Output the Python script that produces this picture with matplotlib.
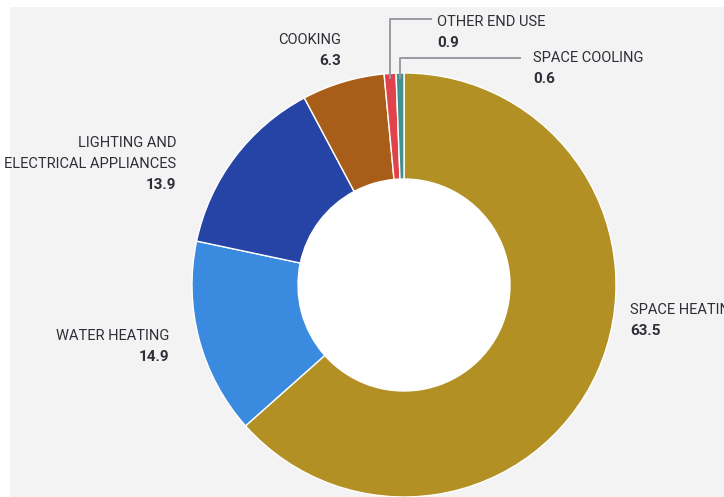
import matplotlib.pyplot as plt
import matplotlib.patches as patches

plt.rcParams['font.family'] = ['Liberation Sans Narrow', 'DejaVu Sans Condensed', 'Roboto']

# residential energy use by end use (%)
end_uses = ['SPACE HEATING', 'WATER HEATING', 'LIGHTING AND\nELECTRICAL APPLIANCES',
            'COOKING', 'OTHER END USE', 'SPACE COOLING']
shares = [63.5, 14.9, 13.9, 6.3, 0.9, 0.6]
colors = ['#B29023', '#3A8AE0', '#2643A6', '#A85E18', '#E0434A', '#45908E']

W, H = 724, 497
fig = plt.figure(figsize=(W / 100, H / 100), dpi=100)
fig.patch.set_facecolor('white')
ax = fig.add_axes([0, 0, 1, 1])

# light grey panel behind the chart
ax.add_patch(patches.Rectangle((10, 0), W - 10, H - 7, facecolor='#F3F3F3',
                               edgecolor='none', zorder=0))

cx, cy, r = 404, H - 285, 212
wedges, _ = ax.pie(shares, colors=colors, startangle=90, counterclock=False,
                   center=(cx, cy), radius=r, frame=True,
                   wedgeprops=dict(width=r * 0.5, edgecolor='white', linewidth=1))
ax.add_patch(patches.Circle((cx, cy), r * 0.5 - 0.5, facecolor='white',
                            edgecolor='none', zorder=3))
ax.set_xlim(0, W)
ax.set_ylim(0, H)
ax.set_aspect('auto')
ax.axis('off')

txt = '#2E2E38'
fs = 10.5
step = 21


def label(x, ytop, name, value, ha):
    y = H - ytop
    for ln in name.split('\n'):
        ax.text(x, y, ln, ha=ha, va='center', fontsize=fs, color=txt)
        y -= step
    ax.text(x, y, f'{value}', ha=ha, va='center', fontsize=fs + 0.5, color=txt,
            fontweight='bold')


label(630, 310, end_uses[0], shares[0], 'left')
label(169, 336, end_uses[1], shares[1], 'right')
label(176, 143, end_uses[2], shares[2], 'right')
label(341, 40, end_uses[3], shares[3], 'right')
label(437, 22, end_uses[4], shares[4], 'left')
label(533, 58, end_uses[5], shares[5], 'left')

# leader lines for the two thin slices
lc = '#9A9AA2'
ax.plot([390, 390, 431], [H - 78, H - 19, H - 19], color=lc, lw=1.4, zorder=5)
ax.plot([400, 400, 520], [H - 78, H - 58, H - 58], color=lc, lw=1.4, zorder=5)

fig.savefig('out.png', dpi=100)
